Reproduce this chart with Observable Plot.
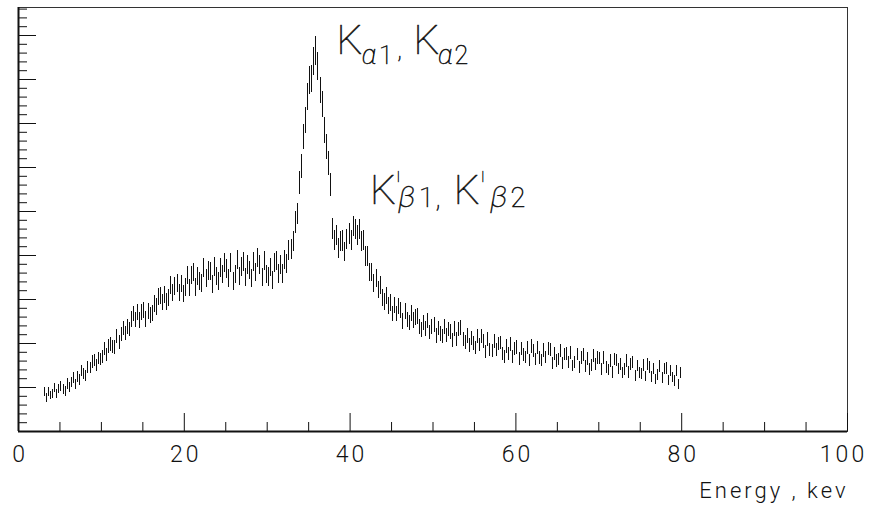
<!DOCTYPE html>
<html><head><meta charset="utf-8">
<script src="https://cdn.jsdelivr.net/npm/d3@7"></script>
<script src="https://cdn.jsdelivr.net/npm/@observablehq/plot@0.6"></script>
<style>
html,body{margin:0;padding:0;background:#fff;}
#chart{width:875px;height:509px;overflow:hidden;}
</style></head><body><div id="chart"></div>
<script>
// ---- data ----
const binStart = 3.0;      // keV, first bin edge
const binWidth = 0.25;     // keV
const counts = [
  89, 76, 89, 82,   85, 99, 85, 97,   103, 95, 91, 108,   100, 111, 121, 107,   // 3-6
  124, 117, 138, 130,   126, 146, 144, 158,   161, 150, 166, 164,   169, 188, 174, 193, // 7-10
  198, 192, 191, 215,   203, 221, 234, 223,   238, 232, 255, 267,   254, 271, 252, 271, // 11-14
  276, 255, 273, 263,   269, 290, 283, 306,   309, 293, 311, 295,   303, 332, 315, 330, // 15-18
  337, 314, 335, 313,   327, 355, 326, 354,   362, 327, 352, 340,   337, 372, 347, 365, // 19-22
  364, 334, 374, 353,   340, 371, 357, 382,   369, 347, 383, 340,   356, 389, 353, 374, // 23-26
  386, 349, 378, 366,   348, 385, 362, 394,   379, 349, 388, 357,   351, 373, 343, 383, // 27-30
  388, 358, 378, 358,   390, 381, 412, 414,   432, 475, 494, 564,   603, 670, 707, 761, // 31-34
  798, 801, 840, 865,   830, 775, 743, 684,   646, 610, 560, 460,   435, 445, 416, 432, // 35-38
  433, 408, 436, 449,   435, 466, 459, 445,   459, 432, 435, 398,   398, 362, 361, 337, // 39-42
  347, 321, 332, 304,   294, 308, 285, 292,   267, 286, 267, 284,   276, 250, 273, 254, // 43-46
  247, 269, 252, 259,   261, 237, 230, 247,   233, 251, 225, 237,   241, 217, 234, 222, // 47-50
  216, 237, 218, 232,   226, 207, 233, 210,   232, 235, 208, 203,   217, 196, 211, 200, // 51-54
  189, 215, 197, 216,   204, 181, 208, 186,   182, 205, 186, 199,   201, 177, 169, 193, // 55-58
  177, 198, 169, 187,   191, 165, 187, 174,   168, 190, 162, 193,   183, 163, 189, 167, // 59-62
  161, 184, 168, 188,   186, 155, 177, 160,   163, 183, 155, 175,   177, 157, 179, 149, // 63-66
  157, 175, 146, 167,   174, 148, 165, 141,   150, 172, 153, 167,   166, 141, 167, 146, // 67-70
  140, 160, 134, 164,   161, 142, 152, 132,   141, 160, 134, 152,   157, 126, 149, 133, // 71-74
  131, 151, 125, 153,   146, 124, 142, 118,   128, 148, 122, 142,   143, 116, 137, 123, // 75-78
  115, 137, 106, 133                                                                    // 79
];
const xMajorTicks = [0, 20, 40, 60, 80, 100];
const xMinorTicks = [5, 10, 15, 25, 30, 35, 45, 50, 55, 65, 70, 75, 85, 90, 95];
const xTickLabels = ["0", "20", "40", "60", "80", "100"];
const yMajorTicks = [100, 200, 300, 400, 500, 600, 700, 800, 900];
const yMinorTicks = [20,40,60,80,120,140,160,180,220,240,260,280,320,340,360,380,420,440,460,480,
                     520,540,560,580,620,640,660,680,720,740,760,780,820,840,860,880,920,940,960];
const xAxisTitle = "Energy , kev";
const peakTexts   = ["K", "1", ",", "K", "2", "K", "|", "1", ",", "K", "|", "2"];
const greekTexts  = ["α", "α", "β", "β"];

// ---- layout (positions / sizes of annotation pieces, in axis units) ----
const uprightLayout = [
  {x: 38.35, y: 859, size: 41}, {x: 43.5, y: 836, size: 25}, {x: 45.7, y: 848, size: 25},
  {x: 47.65, y: 859, size: 41}, {x: 52.6, y: 836, size: 25},
  {x: 42.4, y: 518, size: 41}, {x: 45.65, y: 572, size: 13}, {x: 48.3, y: 511, size: 27},
  {x: 50.3, y: 511, size: 27}, {x: 52.5, y: 518, size: 41}, {x: 55.85, y: 572, size: 13},
  {x: 59.35, y: 511, size: 27}
];
const greekLayout = [
  {x: 41.4, y: 836, size: 27}, {x: 50.6, y: 836, size: 27},
  {x: 45.8, y: 511, size: 30}, {x: 56.9, y: 511, size: 30}
];
const upright = peakTexts.map((t, i) => ({text: t, ...uprightLayout[i]}));
const greek = greekTexts.map((t, i) => ({text: t, ...greekLayout[i]}));

const W = 875, H = 509, mL = 18, mR = 28, mT = 7, mB = 78;
const innerW = W - mL - mR, innerH = H - mT - mB;
const yTop = innerH / 0.44;
const errScale = 1.1; // Poisson-like error bar: errScale * sqrt(count)

const ink = "#111";
const font = "Roboto, 'DejaVu Sans', sans-serif";
const plot = Plot.plot({
  width: W, height: H,
  marginLeft: mL, marginRight: mR, marginTop: mT, marginBottom: mB,
  x: {domain: [0, 100], axis: null, label: null},
  y: {domain: [0, yTop], axis: null, label: null},
  style: {fontFamily: font, fontWeight: 300, background: "#fff"},
  marks: [
    Plot.frame({stroke: "#333", strokeWidth: 1}),
    Plot.ruleX([0], {stroke: ink, strokeWidth: 2}),
    Plot.ruleY([0], {stroke: ink, strokeWidth: 2}),
    Plot.ruleX(xMajorTicks, {x: d => d, insetTop: innerH - 18, stroke: ink}),
    Plot.ruleX(xMinorTicks, {x: d => d, insetTop: innerH - 9, stroke: ink}),
    Plot.ruleY(yMajorTicks, {y: d => d, insetRight: innerW - 18, stroke: ink}),
    Plot.ruleY(yMinorTicks, {y: d => d, insetRight: innerW - 9, stroke: ink}),
    Plot.text(xMajorTicks.slice(0, 5), {x: d => d, text: (d, i) => xTickLabels[i], frameAnchor: "bottom",
      dy: 30, dx: 1.5, lineAnchor: "bottom", fontSize: 23, fill: ink, className: "spaced"}),
    Plot.text(xMajorTicks.slice(5), {x: d => d, text: (d, i) => xTickLabels[5 + i], frameAnchor: "bottom",
      dy: 30, dx: -4, lineAnchor: "bottom", fontSize: 23, fill: ink, className: "spaced"}),
    Plot.text([xAxisTitle], {text: d => d, frameAnchor: "bottom-right", dx: 1, dy: 66,
      textAnchor: "end", lineAnchor: "bottom", fontSize: 22, fill: ink, className: "spaced"}),
    Plot.ruleX(counts, {
      x: (d, i) => binStart + (i + 0.5) * binWidth,
      y1: d => d - errScale * Math.sqrt(d), y2: d => d + errScale * Math.sqrt(d),
      stroke: ink, strokeWidth: 1, className: "bars"
    }),
    Plot.text(upright, {x: "x", y: "y", text: "text", fontSize: "size", textAnchor: "start",
      lineAnchor: "bottom", fill: ink, stroke: ink, strokeWidth: 0.5, className: "ann"}),
    Plot.text(greek, {x: "x", y: "y", text: "text", fontSize: "size", textAnchor: "start",
      lineAnchor: "bottom", fill: ink, stroke: ink, strokeWidth: 0.5, fontStyle: "italic", className: "ann"})
  ]
});
d3.select(plot).selectAll("g.spaced text").style("letter-spacing", "3px");
d3.select(plot).selectAll("g.ann").style("font-weight", "100");
d3.select(plot).selectAll("g.bars").attr("shape-rendering", "crispEdges");
document.getElementById("chart").appendChild(plot);
</script></body></html>
